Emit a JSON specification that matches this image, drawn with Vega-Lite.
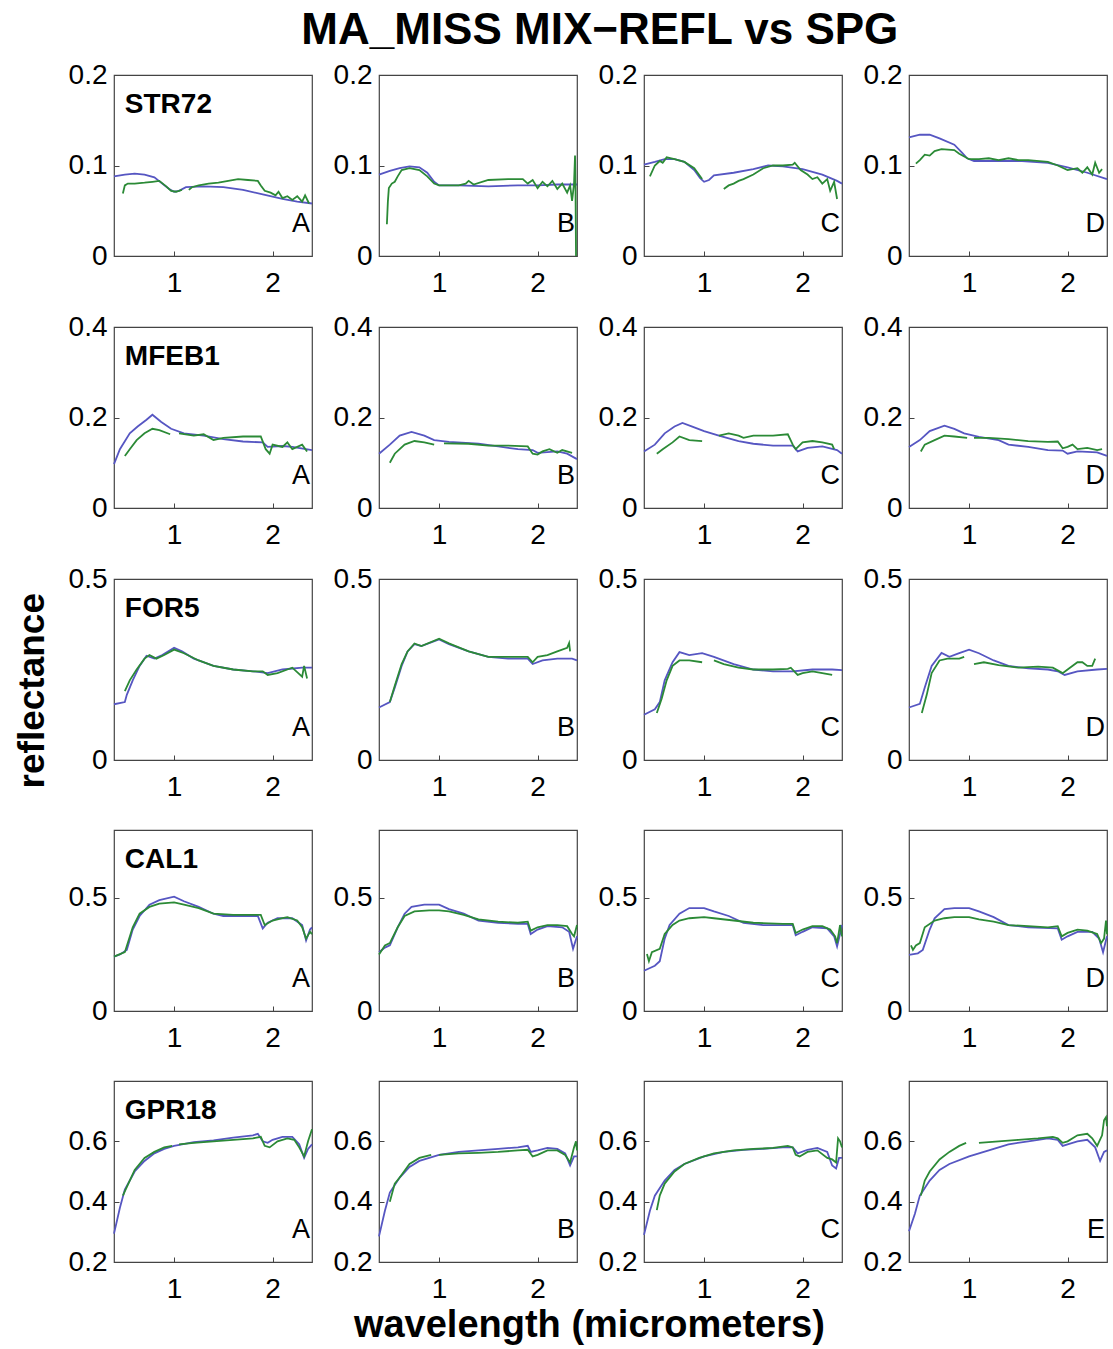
{
"$schema":"https://vega.github.io/schema/vega-lite/v6.json",
"padding":{"left":14,"top":9,"right":4,"bottom":4},
"background":"white",
"config":{
 "font":"Liberation Sans",
 "view":{"stroke":"#444","strokeWidth":1.2},
 "axis":{"domain":false,"grid":false,"ticks":true,"tickSize":-5,"tickColor":"#444","labelFontSize":28,"labelColor":"#000","labelFont":"Liberation Sans","title":null},
 "axisX":{"labelPadding":18},
 "axisY":{"labelPadding":12},
 "title":{"font":"Liberation Sans","fontWeight":"bold","color":"#000"}
},
"title":{"text":"MA_MISS MIX−REFL vs SPG","fontSize":44,"anchor":"middle","offset":7,"dx":37},
"datasets":{"d":[
{"r":1,"c":1,"lab":"A","nm":"STR72"},{"r":1,"c":2,"lab":"B"},{"r":1,"c":3,"lab":"C"},{"r":1,"c":4,"lab":"D"},
{"r":2,"c":1,"lab":"A","nm":"MFEB1"},{"r":2,"c":2,"lab":"B"},{"r":2,"c":3,"lab":"C"},{"r":2,"c":4,"lab":"D"},
{"r":3,"c":1,"lab":"A","nm":"FOR5"},{"r":3,"c":2,"lab":"B"},{"r":3,"c":3,"lab":"C"},{"r":3,"c":4,"lab":"D"},
{"r":4,"c":1,"lab":"A","nm":"CAL1"},{"r":4,"c":2,"lab":"B"},{"r":4,"c":3,"lab":"C"},{"r":4,"c":4,"lab":"D"},
{"r":5,"c":1,"lab":"A","nm":"GPR18"},{"r":5,"c":2,"lab":"B"},{"r":5,"c":3,"lab":"C"},{"r":5,"c":4,"lab":"E"},

{"r":1,"c":1,"s":"b","x":0.39,"y":0.088},{"r":1,"c":1,"s":"b","x":0.5,"y":0.090},{"r":1,"c":1,"s":"b","x":0.6,"y":0.091},{"r":1,"c":1,"s":"b","x":0.7,"y":0.090},{"r":1,"c":1,"s":"b","x":0.8,"y":0.087},{"r":1,"c":1,"s":"b","x":0.88,"y":0.080},{"r":1,"c":1,"s":"b","x":0.95,"y":0.074},{"r":1,"c":1,"s":"b","x":1.0,"y":0.071},{"r":1,"c":1,"s":"b","x":1.05,"y":0.072},{"r":1,"c":1,"s":"b","x":1.12,"y":0.076},{"r":1,"c":1,"s":"b","x":1.3,"y":0.077},{"r":1,"c":1,"s":"b","x":1.5,"y":0.076},{"r":1,"c":1,"s":"b","x":1.7,"y":0.073},{"r":1,"c":1,"s":"b","x":1.9,"y":0.068},{"r":1,"c":1,"s":"b","x":2.1,"y":0.063},{"r":1,"c":1,"s":"b","x":2.25,"y":0.060},{"r":1,"c":1,"s":"b","x":2.4,"y":0.058},
{"r":1,"c":1,"s":"g1","x":0.48,"y":0.069},{"r":1,"c":1,"s":"g1","x":0.5,"y":0.078},{"r":1,"c":1,"s":"g1","x":0.53,"y":0.080},{"r":1,"c":1,"s":"g1","x":0.6,"y":0.080},{"r":1,"c":1,"s":"g1","x":0.7,"y":0.081},{"r":1,"c":1,"s":"g1","x":0.78,"y":0.082},{"r":1,"c":1,"s":"g1","x":0.85,"y":0.083},{"r":1,"c":1,"s":"g1","x":0.92,"y":0.077},{"r":1,"c":1,"s":"g1","x":0.97,"y":0.072},{"r":1,"c":1,"s":"g1","x":1.02,"y":0.071},{"r":1,"c":1,"s":"g1","x":1.08,"y":0.073},
{"r":1,"c":1,"s":"g2","x":1.15,"y":0.073},{"r":1,"c":1,"s":"g2","x":1.18,"y":0.076},{"r":1,"c":1,"s":"g2","x":1.25,"y":0.078},{"r":1,"c":1,"s":"g2","x":1.35,"y":0.080},{"r":1,"c":1,"s":"g2","x":1.45,"y":0.081},{"r":1,"c":1,"s":"g2","x":1.55,"y":0.083},{"r":1,"c":1,"s":"g2","x":1.65,"y":0.085},{"r":1,"c":1,"s":"g2","x":1.75,"y":0.084},{"r":1,"c":1,"s":"g2","x":1.85,"y":0.083},{"r":1,"c":1,"s":"g2","x":1.88,"y":0.078},{"r":1,"c":1,"s":"g2","x":1.92,"y":0.072},{"r":1,"c":1,"s":"g2","x":1.98,"y":0.070},{"r":1,"c":1,"s":"g2","x":2.03,"y":0.067},{"r":1,"c":1,"s":"g2","x":2.06,"y":0.071},{"r":1,"c":1,"s":"g2","x":2.1,"y":0.064},{"r":1,"c":1,"s":"g2","x":2.15,"y":0.066},{"r":1,"c":1,"s":"g2","x":2.2,"y":0.062},{"r":1,"c":1,"s":"g2","x":2.25,"y":0.066},{"r":1,"c":1,"s":"g2","x":2.3,"y":0.060},{"r":1,"c":1,"s":"g2","x":2.33,"y":0.067},{"r":1,"c":1,"s":"g2","x":2.37,"y":0.058},

{"r":1,"c":2,"s":"b","x":0.39,"y":0.090},{"r":1,"c":2,"s":"b","x":0.5,"y":0.094},{"r":1,"c":2,"s":"b","x":0.6,"y":0.097},{"r":1,"c":2,"s":"b","x":0.7,"y":0.099},{"r":1,"c":2,"s":"b","x":0.8,"y":0.098},{"r":1,"c":2,"s":"b","x":0.88,"y":0.092},{"r":1,"c":2,"s":"b","x":0.95,"y":0.082},{"r":1,"c":2,"s":"b","x":1.0,"y":0.078},{"r":1,"c":2,"s":"b","x":1.2,"y":0.078},{"r":1,"c":2,"s":"b","x":1.5,"y":0.077},{"r":1,"c":2,"s":"b","x":1.8,"y":0.078},{"r":1,"c":2,"s":"b","x":2.0,"y":0.078},{"r":1,"c":2,"s":"b","x":2.2,"y":0.079},{"r":1,"c":2,"s":"b","x":2.4,"y":0.079},
{"r":1,"c":2,"s":"g1","x":0.47,"y":0.035},{"r":1,"c":2,"s":"g1","x":0.48,"y":0.060},{"r":1,"c":2,"s":"g1","x":0.49,"y":0.075},{"r":1,"c":2,"s":"g1","x":0.52,"y":0.080},{"r":1,"c":2,"s":"g1","x":0.55,"y":0.082},{"r":1,"c":2,"s":"g1","x":0.58,"y":0.088},{"r":1,"c":2,"s":"g1","x":0.62,"y":0.095},{"r":1,"c":2,"s":"g1","x":0.7,"y":0.097},{"r":1,"c":2,"s":"g1","x":0.8,"y":0.095},{"r":1,"c":2,"s":"g1","x":0.88,"y":0.088},{"r":1,"c":2,"s":"g1","x":0.95,"y":0.080},{"r":1,"c":2,"s":"g1","x":1.0,"y":0.078},{"r":1,"c":2,"s":"g1","x":1.2,"y":0.078},{"r":1,"c":2,"s":"g1","x":1.27,"y":0.080},{"r":1,"c":2,"s":"g1","x":1.3,"y":0.083},{"r":1,"c":2,"s":"g1","x":1.35,"y":0.079},{"r":1,"c":2,"s":"g1","x":1.5,"y":0.084},{"r":1,"c":2,"s":"g1","x":1.7,"y":0.085},{"r":1,"c":2,"s":"g1","x":1.85,"y":0.085},{"r":1,"c":2,"s":"g1","x":1.9,"y":0.080},{"r":1,"c":2,"s":"g1","x":1.95,"y":0.084},{"r":1,"c":2,"s":"g1","x":2.0,"y":0.075},{"r":1,"c":2,"s":"g1","x":2.05,"y":0.082},{"r":1,"c":2,"s":"g1","x":2.1,"y":0.077},{"r":1,"c":2,"s":"g1","x":2.15,"y":0.083},{"r":1,"c":2,"s":"g1","x":2.2,"y":0.074},{"r":1,"c":2,"s":"g1","x":2.25,"y":0.080},{"r":1,"c":2,"s":"g1","x":2.3,"y":0.070},{"r":1,"c":2,"s":"g1","x":2.33,"y":0.078},{"r":1,"c":2,"s":"g1","x":2.35,"y":0.061},{"r":1,"c":2,"s":"g1","x":2.37,"y":0.080},{"r":1,"c":2,"s":"g1","x":2.38,"y":0.111},{"r":1,"c":2,"s":"g1","x":2.385,"y":0.075},{"r":1,"c":2,"s":"g1","x":2.39,"y":0.0},

{"r":1,"c":3,"s":"b","x":0.39,"y":0.101},{"r":1,"c":3,"s":"b","x":0.5,"y":0.104},{"r":1,"c":3,"s":"b","x":0.6,"y":0.107},{"r":1,"c":3,"s":"b","x":0.7,"y":0.107},{"r":1,"c":3,"s":"b","x":0.8,"y":0.104},{"r":1,"c":3,"s":"b","x":0.9,"y":0.095},{"r":1,"c":3,"s":"b","x":0.96,"y":0.086},{"r":1,"c":3,"s":"b","x":1.0,"y":0.082},{"r":1,"c":3,"s":"b","x":1.05,"y":0.084},{"r":1,"c":3,"s":"b","x":1.1,"y":0.089},{"r":1,"c":3,"s":"b","x":1.3,"y":0.092},{"r":1,"c":3,"s":"b","x":1.5,"y":0.096},{"r":1,"c":3,"s":"b","x":1.65,"y":0.100},{"r":1,"c":3,"s":"b","x":1.8,"y":0.099},{"r":1,"c":3,"s":"b","x":2.0,"y":0.096},{"r":1,"c":3,"s":"b","x":2.2,"y":0.090},{"r":1,"c":3,"s":"b","x":2.35,"y":0.083},{"r":1,"c":3,"s":"b","x":2.4,"y":0.080},
{"r":1,"c":3,"s":"g1","x":0.45,"y":0.088},{"r":1,"c":3,"s":"g1","x":0.5,"y":0.100},{"r":1,"c":3,"s":"g1","x":0.55,"y":0.105},{"r":1,"c":3,"s":"g1","x":0.58,"y":0.103},{"r":1,"c":3,"s":"g1","x":0.62,"y":0.109},{"r":1,"c":3,"s":"g1","x":0.7,"y":0.107},{"r":1,"c":3,"s":"g1","x":0.8,"y":0.104},{"r":1,"c":3,"s":"g1","x":0.9,"y":0.097},{"r":1,"c":3,"s":"g1","x":0.98,"y":0.085},
{"r":1,"c":3,"s":"g2","x":1.2,"y":0.074},{"r":1,"c":3,"s":"g2","x":1.25,"y":0.078},{"r":1,"c":3,"s":"g2","x":1.3,"y":0.080},{"r":1,"c":3,"s":"g2","x":1.35,"y":0.083},{"r":1,"c":3,"s":"g2","x":1.4,"y":0.085},{"r":1,"c":3,"s":"g2","x":1.5,"y":0.090},{"r":1,"c":3,"s":"g2","x":1.6,"y":0.097},{"r":1,"c":3,"s":"g2","x":1.7,"y":0.100},{"r":1,"c":3,"s":"g2","x":1.8,"y":0.100},{"r":1,"c":3,"s":"g2","x":1.9,"y":0.101},{"r":1,"c":3,"s":"g2","x":1.92,"y":0.103},{"r":1,"c":3,"s":"g2","x":1.98,"y":0.095},{"r":1,"c":3,"s":"g2","x":2.05,"y":0.090},{"r":1,"c":3,"s":"g2","x":2.1,"y":0.085},{"r":1,"c":3,"s":"g2","x":2.15,"y":0.087},{"r":1,"c":3,"s":"g2","x":2.2,"y":0.080},{"r":1,"c":3,"s":"g2","x":2.25,"y":0.085},{"r":1,"c":3,"s":"g2","x":2.28,"y":0.072},{"r":1,"c":3,"s":"g2","x":2.32,"y":0.082},{"r":1,"c":3,"s":"g2","x":2.35,"y":0.063},

{"r":1,"c":4,"s":"b","x":0.39,"y":0.131},{"r":1,"c":4,"s":"b","x":0.5,"y":0.134},{"r":1,"c":4,"s":"b","x":0.6,"y":0.134},{"r":1,"c":4,"s":"b","x":0.7,"y":0.130},{"r":1,"c":4,"s":"b","x":0.85,"y":0.123},{"r":1,"c":4,"s":"b","x":0.93,"y":0.114},{"r":1,"c":4,"s":"b","x":0.98,"y":0.108},{"r":1,"c":4,"s":"b","x":1.05,"y":0.105},{"r":1,"c":4,"s":"b","x":1.5,"y":0.105},{"r":1,"c":4,"s":"b","x":1.8,"y":0.103},{"r":1,"c":4,"s":"b","x":2.0,"y":0.098},{"r":1,"c":4,"s":"b","x":2.2,"y":0.092},{"r":1,"c":4,"s":"b","x":2.4,"y":0.085},
{"r":1,"c":4,"s":"g1","x":0.46,"y":0.102},{"r":1,"c":4,"s":"g1","x":0.5,"y":0.106},{"r":1,"c":4,"s":"g1","x":0.55,"y":0.112},{"r":1,"c":4,"s":"g1","x":0.6,"y":0.111},{"r":1,"c":4,"s":"g1","x":0.65,"y":0.116},{"r":1,"c":4,"s":"g1","x":0.72,"y":0.118},{"r":1,"c":4,"s":"g1","x":0.85,"y":0.117},{"r":1,"c":4,"s":"g1","x":0.9,"y":0.113},{"r":1,"c":4,"s":"g1","x":1.0,"y":0.107},{"r":1,"c":4,"s":"g1","x":1.1,"y":0.107},{"r":1,"c":4,"s":"g1","x":1.2,"y":0.108},{"r":1,"c":4,"s":"g1","x":1.3,"y":0.106},{"r":1,"c":4,"s":"g1","x":1.4,"y":0.108},{"r":1,"c":4,"s":"g1","x":1.5,"y":0.106},{"r":1,"c":4,"s":"g1","x":1.6,"y":0.106},{"r":1,"c":4,"s":"g1","x":1.8,"y":0.104},{"r":1,"c":4,"s":"g1","x":1.9,"y":0.100},{"r":1,"c":4,"s":"g1","x":2.0,"y":0.095},{"r":1,"c":4,"s":"g1","x":2.1,"y":0.097},{"r":1,"c":4,"s":"g1","x":2.15,"y":0.092},{"r":1,"c":4,"s":"g1","x":2.2,"y":0.098},{"r":1,"c":4,"s":"g1","x":2.25,"y":0.090},{"r":1,"c":4,"s":"g1","x":2.28,"y":0.103},{"r":1,"c":4,"s":"g1","x":2.32,"y":0.092},{"r":1,"c":4,"s":"g1","x":2.35,"y":0.096},

{"r":2,"c":1,"s":"b","x":0.39,"y":0.097},{"r":2,"c":1,"s":"b","x":0.45,"y":0.130},{"r":2,"c":1,"s":"b","x":0.55,"y":0.165},{"r":2,"c":1,"s":"b","x":0.63,"y":0.180},{"r":2,"c":1,"s":"b","x":0.72,"y":0.195},{"r":2,"c":1,"s":"b","x":0.78,"y":0.206},{"r":2,"c":1,"s":"b","x":0.87,"y":0.190},{"r":2,"c":1,"s":"b","x":0.97,"y":0.175},{"r":2,"c":1,"s":"b","x":1.1,"y":0.165},{"r":2,"c":1,"s":"b","x":1.3,"y":0.160},{"r":2,"c":1,"s":"b","x":1.5,"y":0.152},{"r":2,"c":1,"s":"b","x":1.7,"y":0.147},{"r":2,"c":1,"s":"b","x":1.9,"y":0.145},{"r":2,"c":1,"s":"b","x":1.95,"y":0.135},{"r":2,"c":1,"s":"b","x":2.1,"y":0.137},{"r":2,"c":1,"s":"b","x":2.2,"y":0.135},{"r":2,"c":1,"s":"b","x":2.4,"y":0.128},
{"r":2,"c":1,"s":"g1","x":0.5,"y":0.115},{"r":2,"c":1,"s":"g1","x":0.55,"y":0.130},{"r":2,"c":1,"s":"g1","x":0.62,"y":0.150},{"r":2,"c":1,"s":"g1","x":0.7,"y":0.165},{"r":2,"c":1,"s":"g1","x":0.78,"y":0.175},{"r":2,"c":1,"s":"g1","x":0.85,"y":0.172},{"r":2,"c":1,"s":"g1","x":0.96,"y":0.163},
{"r":2,"c":1,"s":"g2","x":1.05,"y":0.165},{"r":2,"c":1,"s":"g2","x":1.2,"y":0.160},{"r":2,"c":1,"s":"g2","x":1.3,"y":0.163},{"r":2,"c":1,"s":"g2","x":1.4,"y":0.150},{"r":2,"c":1,"s":"g2","x":1.5,"y":0.155},{"r":2,"c":1,"s":"g2","x":1.7,"y":0.158},{"r":2,"c":1,"s":"g2","x":1.88,"y":0.158},{"r":2,"c":1,"s":"g2","x":1.93,"y":0.130},{"r":2,"c":1,"s":"g2","x":1.97,"y":0.120},{"r":2,"c":1,"s":"g2","x":2.0,"y":0.140},{"r":2,"c":1,"s":"g2","x":2.1,"y":0.135},{"r":2,"c":1,"s":"g2","x":2.15,"y":0.145},{"r":2,"c":1,"s":"g2","x":2.2,"y":0.130},{"r":2,"c":1,"s":"g2","x":2.3,"y":0.140},{"r":2,"c":1,"s":"g2","x":2.35,"y":0.125},

{"r":2,"c":2,"s":"b","x":0.39,"y":0.120},{"r":2,"c":2,"s":"b","x":0.5,"y":0.140},{"r":2,"c":2,"s":"b","x":0.6,"y":0.160},{"r":2,"c":2,"s":"b","x":0.72,"y":0.168},{"r":2,"c":2,"s":"b","x":0.85,"y":0.160},{"r":2,"c":2,"s":"b","x":0.95,"y":0.150},{"r":2,"c":2,"s":"b","x":1.1,"y":0.146},{"r":2,"c":2,"s":"b","x":1.4,"y":0.142},{"r":2,"c":2,"s":"b","x":1.6,"y":0.136},{"r":2,"c":2,"s":"b","x":1.8,"y":0.130},{"r":2,"c":2,"s":"b","x":1.95,"y":0.128},{"r":2,"c":2,"s":"b","x":2.0,"y":0.122},{"r":2,"c":2,"s":"b","x":2.2,"y":0.125},{"r":2,"c":2,"s":"b","x":2.3,"y":0.120},{"r":2,"c":2,"s":"b","x":2.4,"y":0.108},
{"r":2,"c":2,"s":"g1","x":0.5,"y":0.100},{"r":2,"c":2,"s":"g1","x":0.55,"y":0.120},{"r":2,"c":2,"s":"g1","x":0.65,"y":0.140},{"r":2,"c":2,"s":"g1","x":0.75,"y":0.148},{"r":2,"c":2,"s":"g1","x":0.85,"y":0.145},{"r":2,"c":2,"s":"g1","x":0.95,"y":0.140},
{"r":2,"c":2,"s":"g2","x":1.05,"y":0.143},{"r":2,"c":2,"s":"g2","x":1.3,"y":0.142},{"r":2,"c":2,"s":"g2","x":1.5,"y":0.138},{"r":2,"c":2,"s":"g2","x":1.7,"y":0.138},{"r":2,"c":2,"s":"g2","x":1.9,"y":0.136},{"r":2,"c":2,"s":"g2","x":1.95,"y":0.120},{"r":2,"c":2,"s":"g2","x":2.0,"y":0.118},{"r":2,"c":2,"s":"g2","x":2.05,"y":0.125},{"r":2,"c":2,"s":"g2","x":2.12,"y":0.130},{"r":2,"c":2,"s":"g2","x":2.2,"y":0.122},{"r":2,"c":2,"s":"g2","x":2.25,"y":0.128},{"r":2,"c":2,"s":"g2","x":2.35,"y":0.122},

{"r":2,"c":3,"s":"b","x":0.39,"y":0.125},{"r":2,"c":3,"s":"b","x":0.5,"y":0.140},{"r":2,"c":3,"s":"b","x":0.6,"y":0.165},{"r":2,"c":3,"s":"b","x":0.7,"y":0.180},{"r":2,"c":3,"s":"b","x":0.78,"y":0.188},{"r":2,"c":3,"s":"b","x":0.88,"y":0.180},{"r":2,"c":3,"s":"b","x":1.0,"y":0.170},{"r":2,"c":3,"s":"b","x":1.15,"y":0.160},{"r":2,"c":3,"s":"b","x":1.35,"y":0.148},{"r":2,"c":3,"s":"b","x":1.5,"y":0.142},{"r":2,"c":3,"s":"b","x":1.7,"y":0.138},{"r":2,"c":3,"s":"b","x":1.9,"y":0.138},{"r":2,"c":3,"s":"b","x":1.95,"y":0.125},{"r":2,"c":3,"s":"b","x":2.05,"y":0.133},{"r":2,"c":3,"s":"b","x":2.2,"y":0.136},{"r":2,"c":3,"s":"b","x":2.35,"y":0.128},{"r":2,"c":3,"s":"b","x":2.4,"y":0.120},
{"r":2,"c":3,"s":"g1","x":0.52,"y":0.120},{"r":2,"c":3,"s":"g1","x":0.58,"y":0.130},{"r":2,"c":3,"s":"g1","x":0.68,"y":0.145},{"r":2,"c":3,"s":"g1","x":0.75,"y":0.158},{"r":2,"c":3,"s":"g1","x":0.85,"y":0.150},{"r":2,"c":3,"s":"g1","x":0.98,"y":0.148},
{"r":2,"c":3,"s":"g2","x":1.15,"y":0.160},{"r":2,"c":3,"s":"g2","x":1.25,"y":0.165},{"r":2,"c":3,"s":"g2","x":1.35,"y":0.160},{"r":2,"c":3,"s":"g2","x":1.4,"y":0.155},{"r":2,"c":3,"s":"g2","x":1.5,"y":0.160},{"r":2,"c":3,"s":"g2","x":1.7,"y":0.160},{"r":2,"c":3,"s":"g2","x":1.85,"y":0.163},{"r":2,"c":3,"s":"g2","x":1.9,"y":0.140},{"r":2,"c":3,"s":"g2","x":1.93,"y":0.130},{"r":2,"c":3,"s":"g2","x":2.0,"y":0.145},{"r":2,"c":3,"s":"g2","x":2.1,"y":0.148},{"r":2,"c":3,"s":"g2","x":2.2,"y":0.145},{"r":2,"c":3,"s":"g2","x":2.3,"y":0.140},{"r":2,"c":3,"s":"g2","x":2.32,"y":0.130},

{"r":2,"c":4,"s":"b","x":0.39,"y":0.135},{"r":2,"c":4,"s":"b","x":0.5,"y":0.150},{"r":2,"c":4,"s":"b","x":0.6,"y":0.170},{"r":2,"c":4,"s":"b","x":0.75,"y":0.182},{"r":2,"c":4,"s":"b","x":0.85,"y":0.175},{"r":2,"c":4,"s":"b","x":0.95,"y":0.165},{"r":2,"c":4,"s":"b","x":1.1,"y":0.157},{"r":2,"c":4,"s":"b","x":1.3,"y":0.150},{"r":2,"c":4,"s":"b","x":1.4,"y":0.140},{"r":2,"c":4,"s":"b","x":1.6,"y":0.135},{"r":2,"c":4,"s":"b","x":1.8,"y":0.128},{"r":2,"c":4,"s":"b","x":1.95,"y":0.127},{"r":2,"c":4,"s":"b","x":2.0,"y":0.120},{"r":2,"c":4,"s":"b","x":2.1,"y":0.125},{"r":2,"c":4,"s":"b","x":2.3,"y":0.123},{"r":2,"c":4,"s":"b","x":2.4,"y":0.115},
{"r":2,"c":4,"s":"g1","x":0.51,"y":0.125},{"r":2,"c":4,"s":"g1","x":0.55,"y":0.140},{"r":2,"c":4,"s":"g1","x":0.65,"y":0.150},{"r":2,"c":4,"s":"g1","x":0.75,"y":0.160},{"r":2,"c":4,"s":"g1","x":0.85,"y":0.158},{"r":2,"c":4,"s":"g1","x":0.98,"y":0.155},
{"r":2,"c":4,"s":"g2","x":1.05,"y":0.155},{"r":2,"c":4,"s":"g2","x":1.2,"y":0.155},{"r":2,"c":4,"s":"g2","x":1.4,"y":0.152},{"r":2,"c":4,"s":"g2","x":1.6,"y":0.148},{"r":2,"c":4,"s":"g2","x":1.8,"y":0.146},{"r":2,"c":4,"s":"g2","x":1.9,"y":0.147},{"r":2,"c":4,"s":"g2","x":1.95,"y":0.132},{"r":2,"c":4,"s":"g2","x":2.0,"y":0.135},{"r":2,"c":4,"s":"g2","x":2.05,"y":0.140},{"r":2,"c":4,"s":"g2","x":2.1,"y":0.130},{"r":2,"c":4,"s":"g2","x":2.2,"y":0.133},{"r":2,"c":4,"s":"g2","x":2.3,"y":0.128},{"r":2,"c":4,"s":"g2","x":2.35,"y":0.130},

{"r":3,"c":1,"s":"b","x":0.39,"y":0.154},{"r":3,"c":1,"s":"b","x":0.5,"y":0.160},{"r":3,"c":1,"s":"b","x":0.52,"y":0.180},{"r":3,"c":1,"s":"b","x":0.58,"y":0.220},{"r":3,"c":1,"s":"b","x":0.65,"y":0.260},{"r":3,"c":1,"s":"b","x":0.72,"y":0.288},{"r":3,"c":1,"s":"b","x":0.8,"y":0.280},{"r":3,"c":1,"s":"b","x":0.88,"y":0.290},{"r":3,"c":1,"s":"b","x":1.0,"y":0.310},{"r":3,"c":1,"s":"b","x":1.08,"y":0.300},{"r":3,"c":1,"s":"b","x":1.2,"y":0.280},{"r":3,"c":1,"s":"b","x":1.4,"y":0.260},{"r":3,"c":1,"s":"b","x":1.6,"y":0.250},{"r":3,"c":1,"s":"b","x":1.8,"y":0.245},{"r":3,"c":1,"s":"b","x":1.95,"y":0.240},{"r":3,"c":1,"s":"b","x":2.1,"y":0.250},{"r":3,"c":1,"s":"b","x":2.3,"y":0.255},{"r":3,"c":1,"s":"b","x":2.4,"y":0.255},
{"r":3,"c":1,"s":"g1","x":0.5,"y":0.190},{"r":3,"c":1,"s":"g1","x":0.55,"y":0.220},{"r":3,"c":1,"s":"g1","x":0.62,"y":0.250},{"r":3,"c":1,"s":"g1","x":0.7,"y":0.280},{"r":3,"c":1,"s":"g1","x":0.75,"y":0.290},{"r":3,"c":1,"s":"g1","x":0.82,"y":0.280},{"r":3,"c":1,"s":"g1","x":0.9,"y":0.290},{"r":3,"c":1,"s":"g1","x":1.0,"y":0.305},{"r":3,"c":1,"s":"g1","x":1.1,"y":0.295},{"r":3,"c":1,"s":"g1","x":1.25,"y":0.275},{"r":3,"c":1,"s":"g1","x":1.4,"y":0.260},{"r":3,"c":1,"s":"g1","x":1.6,"y":0.250},{"r":3,"c":1,"s":"g1","x":1.8,"y":0.245},{"r":3,"c":1,"s":"g1","x":1.9,"y":0.245},{"r":3,"c":1,"s":"g1","x":1.95,"y":0.235},{"r":3,"c":1,"s":"g1","x":2.05,"y":0.240},{"r":3,"c":1,"s":"g1","x":2.15,"y":0.250},{"r":3,"c":1,"s":"g1","x":2.2,"y":0.255},{"r":3,"c":1,"s":"g1","x":2.3,"y":0.230},{"r":3,"c":1,"s":"g1","x":2.32,"y":0.260},{"r":3,"c":1,"s":"g1","x":2.35,"y":0.225},

{"r":3,"c":2,"s":"b","x":0.39,"y":0.145},{"r":3,"c":2,"s":"b","x":0.5,"y":0.160},{"r":3,"c":2,"s":"b","x":0.55,"y":0.200},{"r":3,"c":2,"s":"b","x":0.62,"y":0.260},{"r":3,"c":2,"s":"b","x":0.68,"y":0.300},{"r":3,"c":2,"s":"b","x":0.75,"y":0.320},{"r":3,"c":2,"s":"b","x":0.82,"y":0.315},{"r":3,"c":2,"s":"b","x":1.0,"y":0.333},{"r":3,"c":2,"s":"b","x":1.1,"y":0.320},{"r":3,"c":2,"s":"b","x":1.3,"y":0.300},{"r":3,"c":2,"s":"b","x":1.5,"y":0.285},{"r":3,"c":2,"s":"b","x":1.7,"y":0.280},{"r":3,"c":2,"s":"b","x":1.9,"y":0.280},{"r":3,"c":2,"s":"b","x":1.95,"y":0.265},{"r":3,"c":2,"s":"b","x":2.05,"y":0.275},{"r":3,"c":2,"s":"b","x":2.2,"y":0.280},{"r":3,"c":2,"s":"b","x":2.35,"y":0.280},{"r":3,"c":2,"s":"b","x":2.4,"y":0.275},
{"r":3,"c":2,"s":"g1","x":0.5,"y":0.160},{"r":3,"c":2,"s":"g1","x":0.55,"y":0.205},{"r":3,"c":2,"s":"g1","x":0.62,"y":0.265},{"r":3,"c":2,"s":"g1","x":0.68,"y":0.300},{"r":3,"c":2,"s":"g1","x":0.75,"y":0.322},{"r":3,"c":2,"s":"g1","x":0.82,"y":0.315},{"r":3,"c":2,"s":"g1","x":1.0,"y":0.335},{"r":3,"c":2,"s":"g1","x":1.1,"y":0.322},{"r":3,"c":2,"s":"g1","x":1.3,"y":0.300},{"r":3,"c":2,"s":"g1","x":1.5,"y":0.285},{"r":3,"c":2,"s":"g1","x":1.7,"y":0.285},{"r":3,"c":2,"s":"g1","x":1.9,"y":0.285},{"r":3,"c":2,"s":"g1","x":1.95,"y":0.270},{"r":3,"c":2,"s":"g1","x":2.0,"y":0.285},{"r":3,"c":2,"s":"g1","x":2.1,"y":0.290},{"r":3,"c":2,"s":"g1","x":2.2,"y":0.300},{"r":3,"c":2,"s":"g1","x":2.3,"y":0.310},{"r":3,"c":2,"s":"g1","x":2.32,"y":0.323},{"r":3,"c":2,"s":"g1","x":2.33,"y":0.300},

{"r":3,"c":3,"s":"b","x":0.39,"y":0.125},{"r":3,"c":3,"s":"b","x":0.5,"y":0.140},{"r":3,"c":3,"s":"b","x":0.55,"y":0.160},{"r":3,"c":3,"s":"b","x":0.6,"y":0.220},{"r":3,"c":3,"s":"b","x":0.68,"y":0.270},{"r":3,"c":3,"s":"b","x":0.75,"y":0.298},{"r":3,"c":3,"s":"b","x":0.85,"y":0.290},{"r":3,"c":3,"s":"b","x":0.98,"y":0.295},{"r":3,"c":3,"s":"b","x":1.1,"y":0.285},{"r":3,"c":3,"s":"b","x":1.3,"y":0.265},{"r":3,"c":3,"s":"b","x":1.5,"y":0.250},{"r":3,"c":3,"s":"b","x":1.7,"y":0.245},{"r":3,"c":3,"s":"b","x":1.9,"y":0.245},{"r":3,"c":3,"s":"b","x":2.1,"y":0.250},{"r":3,"c":3,"s":"b","x":2.3,"y":0.250},{"r":3,"c":3,"s":"b","x":2.4,"y":0.248},
{"r":3,"c":3,"s":"g1","x":0.52,"y":0.130},{"r":3,"c":3,"s":"g1","x":0.57,"y":0.170},{"r":3,"c":3,"s":"g1","x":0.62,"y":0.220},{"r":3,"c":3,"s":"g1","x":0.68,"y":0.260},{"r":3,"c":3,"s":"g1","x":0.75,"y":0.275},{"r":3,"c":3,"s":"g1","x":0.85,"y":0.275},{"r":3,"c":3,"s":"g1","x":0.98,"y":0.270},
{"r":3,"c":3,"s":"g2","x":1.1,"y":0.275},{"r":3,"c":3,"s":"g2","x":1.2,"y":0.265},{"r":3,"c":3,"s":"g2","x":1.35,"y":0.255},{"r":3,"c":3,"s":"g2","x":1.5,"y":0.250},{"r":3,"c":3,"s":"g2","x":1.7,"y":0.250},{"r":3,"c":3,"s":"g2","x":1.85,"y":0.252},{"r":3,"c":3,"s":"g2","x":1.88,"y":0.255},{"r":3,"c":3,"s":"g2","x":1.95,"y":0.235},{"r":3,"c":3,"s":"g2","x":2.0,"y":0.240},{"r":3,"c":3,"s":"g2","x":2.1,"y":0.245},{"r":3,"c":3,"s":"g2","x":2.2,"y":0.240},{"r":3,"c":3,"s":"g2","x":2.3,"y":0.235},

{"r":3,"c":4,"s":"b","x":0.39,"y":0.145},{"r":3,"c":4,"s":"b","x":0.5,"y":0.155},{"r":3,"c":4,"s":"b","x":0.55,"y":0.200},{"r":3,"c":4,"s":"b","x":0.62,"y":0.260},{"r":3,"c":4,"s":"b","x":0.72,"y":0.296},{"r":3,"c":4,"s":"b","x":0.8,"y":0.285},{"r":3,"c":4,"s":"b","x":0.9,"y":0.295},{"r":3,"c":4,"s":"b","x":1.0,"y":0.305},{"r":3,"c":4,"s":"b","x":1.1,"y":0.295},{"r":3,"c":4,"s":"b","x":1.25,"y":0.275},{"r":3,"c":4,"s":"b","x":1.4,"y":0.260},{"r":3,"c":4,"s":"b","x":1.6,"y":0.253},{"r":3,"c":4,"s":"b","x":1.8,"y":0.250},{"r":3,"c":4,"s":"b","x":1.9,"y":0.245},{"r":3,"c":4,"s":"b","x":1.97,"y":0.235},{"r":3,"c":4,"s":"b","x":2.1,"y":0.245},{"r":3,"c":4,"s":"b","x":2.3,"y":0.250},{"r":3,"c":4,"s":"b","x":2.4,"y":0.252},
{"r":3,"c":4,"s":"g1","x":0.52,"y":0.130},{"r":3,"c":4,"s":"g1","x":0.57,"y":0.180},{"r":3,"c":4,"s":"g1","x":0.62,"y":0.240},{"r":3,"c":4,"s":"g1","x":0.7,"y":0.275},{"r":3,"c":4,"s":"g1","x":0.78,"y":0.280},{"r":3,"c":4,"s":"g1","x":0.9,"y":0.280},{"r":3,"c":4,"s":"g1","x":0.95,"y":0.285},
{"r":3,"c":4,"s":"g2","x":1.05,"y":0.265},{"r":3,"c":4,"s":"g2","x":1.15,"y":0.270},{"r":3,"c":4,"s":"g2","x":1.3,"y":0.262},{"r":3,"c":4,"s":"g2","x":1.5,"y":0.255},{"r":3,"c":4,"s":"g2","x":1.7,"y":0.258},{"r":3,"c":4,"s":"g2","x":1.85,"y":0.255},{"r":3,"c":4,"s":"g2","x":1.95,"y":0.240},{"r":3,"c":4,"s":"g2","x":2.0,"y":0.250},{"r":3,"c":4,"s":"g2","x":2.1,"y":0.270},{"r":3,"c":4,"s":"g2","x":2.15,"y":0.270},{"r":3,"c":4,"s":"g2","x":2.2,"y":0.260},{"r":3,"c":4,"s":"g2","x":2.25,"y":0.260},{"r":3,"c":4,"s":"g2","x":2.28,"y":0.280},

{"r":4,"c":1,"s":"b","x":0.39,"y":0.240},{"r":4,"c":1,"s":"b","x":0.45,"y":0.250},{"r":4,"c":1,"s":"b","x":0.52,"y":0.270},{"r":4,"c":1,"s":"b","x":0.58,"y":0.360},{"r":4,"c":1,"s":"b","x":0.65,"y":0.420},{"r":4,"c":1,"s":"b","x":0.75,"y":0.470},{"r":4,"c":1,"s":"b","x":0.85,"y":0.490},{"r":4,"c":1,"s":"b","x":1.0,"y":0.505},{"r":4,"c":1,"s":"b","x":1.1,"y":0.485},{"r":4,"c":1,"s":"b","x":1.25,"y":0.460},{"r":4,"c":1,"s":"b","x":1.4,"y":0.430},{"r":4,"c":1,"s":"b","x":1.5,"y":0.420},{"r":4,"c":1,"s":"b","x":1.7,"y":0.420},{"r":4,"c":1,"s":"b","x":1.85,"y":0.420},{"r":4,"c":1,"s":"b","x":1.9,"y":0.365},{"r":4,"c":1,"s":"b","x":1.95,"y":0.390},{"r":4,"c":1,"s":"b","x":2.05,"y":0.410},{"r":4,"c":1,"s":"b","x":2.2,"y":0.410},{"r":4,"c":1,"s":"b","x":2.3,"y":0.380},{"r":4,"c":1,"s":"b","x":2.34,"y":0.312},{"r":4,"c":1,"s":"b","x":2.38,"y":0.360},{"r":4,"c":1,"s":"b","x":2.4,"y":0.370},
{"r":4,"c":1,"s":"g1","x":0.39,"y":0.240},{"r":4,"c":1,"s":"g1","x":0.5,"y":0.260},{"r":4,"c":1,"s":"g1","x":0.58,"y":0.370},{"r":4,"c":1,"s":"g1","x":0.65,"y":0.430},{"r":4,"c":1,"s":"g1","x":0.75,"y":0.460},{"r":4,"c":1,"s":"g1","x":0.85,"y":0.475},{"r":4,"c":1,"s":"g1","x":1.0,"y":0.480},{"r":4,"c":1,"s":"g1","x":1.1,"y":0.470},{"r":4,"c":1,"s":"g1","x":1.25,"y":0.455},{"r":4,"c":1,"s":"g1","x":1.4,"y":0.430},{"r":4,"c":1,"s":"g1","x":1.6,"y":0.425},{"r":4,"c":1,"s":"g1","x":1.88,"y":0.425},{"r":4,"c":1,"s":"g1","x":1.92,"y":0.380},{"r":4,"c":1,"s":"g1","x":2.0,"y":0.400},{"r":4,"c":1,"s":"g1","x":2.1,"y":0.410},{"r":4,"c":1,"s":"g1","x":2.15,"y":0.415},{"r":4,"c":1,"s":"g1","x":2.25,"y":0.400},{"r":4,"c":1,"s":"g1","x":2.3,"y":0.370},{"r":4,"c":1,"s":"g1","x":2.34,"y":0.320},{"r":4,"c":1,"s":"g1","x":2.38,"y":0.350},{"r":4,"c":1,"s":"g1","x":2.4,"y":0.340},

{"r":4,"c":2,"s":"b","x":0.39,"y":0.260},{"r":4,"c":2,"s":"b","x":0.45,"y":0.280},{"r":4,"c":2,"s":"b","x":0.5,"y":0.290},{"r":4,"c":2,"s":"b","x":0.58,"y":0.370},{"r":4,"c":2,"s":"b","x":0.65,"y":0.430},{"r":4,"c":2,"s":"b","x":0.72,"y":0.460},{"r":4,"c":2,"s":"b","x":0.85,"y":0.470},{"r":4,"c":2,"s":"b","x":1.0,"y":0.470},{"r":4,"c":2,"s":"b","x":1.1,"y":0.450},{"r":4,"c":2,"s":"b","x":1.25,"y":0.430},{"r":4,"c":2,"s":"b","x":1.4,"y":0.400},{"r":4,"c":2,"s":"b","x":1.6,"y":0.390},{"r":4,"c":2,"s":"b","x":1.8,"y":0.385},{"r":4,"c":2,"s":"b","x":1.9,"y":0.385},{"r":4,"c":2,"s":"b","x":1.93,"y":0.340},{"r":4,"c":2,"s":"b","x":2.0,"y":0.360},{"r":4,"c":2,"s":"b","x":2.1,"y":0.375},{"r":4,"c":2,"s":"b","x":2.25,"y":0.370},{"r":4,"c":2,"s":"b","x":2.32,"y":0.350},{"r":4,"c":2,"s":"b","x":2.36,"y":0.275},{"r":4,"c":2,"s":"b","x":2.4,"y":0.330},
{"r":4,"c":2,"s":"g1","x":0.39,"y":0.250},{"r":4,"c":2,"s":"g1","x":0.45,"y":0.290},{"r":4,"c":2,"s":"g1","x":0.5,"y":0.300},{"r":4,"c":2,"s":"g1","x":0.58,"y":0.370},{"r":4,"c":2,"s":"g1","x":0.65,"y":0.420},{"r":4,"c":2,"s":"g1","x":0.75,"y":0.440},{"r":4,"c":2,"s":"g1","x":0.9,"y":0.445},{"r":4,"c":2,"s":"g1","x":1.0,"y":0.445},{"r":4,"c":2,"s":"g1","x":1.1,"y":0.440},{"r":4,"c":2,"s":"g1","x":1.25,"y":0.425},{"r":4,"c":2,"s":"g1","x":1.4,"y":0.405},{"r":4,"c":2,"s":"g1","x":1.6,"y":0.395},{"r":4,"c":2,"s":"g1","x":1.8,"y":0.390},{"r":4,"c":2,"s":"g1","x":1.9,"y":0.395},{"r":4,"c":2,"s":"g1","x":1.93,"y":0.355},{"r":4,"c":2,"s":"g1","x":2.0,"y":0.370},{"r":4,"c":2,"s":"g1","x":2.1,"y":0.380},{"r":4,"c":2,"s":"g1","x":2.2,"y":0.380},{"r":4,"c":2,"s":"g1","x":2.3,"y":0.375},{"r":4,"c":2,"s":"g1","x":2.35,"y":0.340},{"r":4,"c":2,"s":"g1","x":2.37,"y":0.330},{"r":4,"c":2,"s":"g1","x":2.4,"y":0.380},

{"r":4,"c":3,"s":"b","x":0.39,"y":0.178},{"r":4,"c":3,"s":"b","x":0.5,"y":0.200},{"r":4,"c":3,"s":"b","x":0.55,"y":0.220},{"r":4,"c":3,"s":"b","x":0.6,"y":0.320},{"r":4,"c":3,"s":"b","x":0.65,"y":0.380},{"r":4,"c":3,"s":"b","x":0.75,"y":0.430},{"r":4,"c":3,"s":"b","x":0.85,"y":0.455},{"r":4,"c":3,"s":"b","x":1.0,"y":0.455},{"r":4,"c":3,"s":"b","x":1.1,"y":0.440},{"r":4,"c":3,"s":"b","x":1.25,"y":0.420},{"r":4,"c":3,"s":"b","x":1.4,"y":0.390},{"r":4,"c":3,"s":"b","x":1.6,"y":0.380},{"r":4,"c":3,"s":"b","x":1.9,"y":0.380},{"r":4,"c":3,"s":"b","x":1.93,"y":0.335},{"r":4,"c":3,"s":"b","x":2.0,"y":0.350},{"r":4,"c":3,"s":"b","x":2.1,"y":0.370},{"r":4,"c":3,"s":"b","x":2.25,"y":0.365},{"r":4,"c":3,"s":"b","x":2.32,"y":0.330},{"r":4,"c":3,"s":"b","x":2.35,"y":0.285},{"r":4,"c":3,"s":"b","x":2.38,"y":0.340},{"r":4,"c":3,"s":"b","x":2.4,"y":0.380},
{"r":4,"c":3,"s":"g1","x":0.42,"y":0.252},{"r":4,"c":3,"s":"g1","x":0.44,"y":0.220},{"r":4,"c":3,"s":"g1","x":0.47,"y":0.260},{"r":4,"c":3,"s":"g1","x":0.55,"y":0.275},{"r":4,"c":3,"s":"g1","x":0.6,"y":0.340},{"r":4,"c":3,"s":"g1","x":0.68,"y":0.380},{"r":4,"c":3,"s":"g1","x":0.75,"y":0.400},{"r":4,"c":3,"s":"g1","x":0.85,"y":0.410},{"r":4,"c":3,"s":"g1","x":1.0,"y":0.415},{"r":4,"c":3,"s":"g1","x":1.1,"y":0.410},{"r":4,"c":3,"s":"g1","x":1.3,"y":0.400},{"r":4,"c":3,"s":"g1","x":1.5,"y":0.390},{"r":4,"c":3,"s":"g1","x":1.8,"y":0.385},{"r":4,"c":3,"s":"g1","x":1.9,"y":0.385},{"r":4,"c":3,"s":"g1","x":1.93,"y":0.345},{"r":4,"c":3,"s":"g1","x":2.0,"y":0.360},{"r":4,"c":3,"s":"g1","x":2.1,"y":0.375},{"r":4,"c":3,"s":"g1","x":2.2,"y":0.375},{"r":4,"c":3,"s":"g1","x":2.28,"y":0.360},{"r":4,"c":3,"s":"g1","x":2.33,"y":0.330},{"r":4,"c":3,"s":"g1","x":2.35,"y":0.300},{"r":4,"c":3,"s":"g1","x":2.38,"y":0.380},{"r":4,"c":3,"s":"g1","x":2.4,"y":0.330},

{"r":4,"c":4,"s":"b","x":0.39,"y":0.248},{"r":4,"c":4,"s":"b","x":0.48,"y":0.255},{"r":4,"c":4,"s":"b","x":0.53,"y":0.270},{"r":4,"c":4,"s":"b","x":0.6,"y":0.360},{"r":4,"c":4,"s":"b","x":0.65,"y":0.410},{"r":4,"c":4,"s":"b","x":0.75,"y":0.450},{"r":4,"c":4,"s":"b","x":0.85,"y":0.455},{"r":4,"c":4,"s":"b","x":1.0,"y":0.455},{"r":4,"c":4,"s":"b","x":1.1,"y":0.440},{"r":4,"c":4,"s":"b","x":1.25,"y":0.415},{"r":4,"c":4,"s":"b","x":1.4,"y":0.380},{"r":4,"c":4,"s":"b","x":1.6,"y":0.370},{"r":4,"c":4,"s":"b","x":1.9,"y":0.365},{"r":4,"c":4,"s":"b","x":1.94,"y":0.315},{"r":4,"c":4,"s":"b","x":2.0,"y":0.330},{"r":4,"c":4,"s":"b","x":2.1,"y":0.350},{"r":4,"c":4,"s":"b","x":2.25,"y":0.350},{"r":4,"c":4,"s":"b","x":2.32,"y":0.320},{"r":4,"c":4,"s":"b","x":2.36,"y":0.260},{"r":4,"c":4,"s":"b","x":2.4,"y":0.330},
{"r":4,"c":4,"s":"g1","x":0.41,"y":0.290},{"r":4,"c":4,"s":"g1","x":0.43,"y":0.270},{"r":4,"c":4,"s":"g1","x":0.46,"y":0.290},{"r":4,"c":4,"s":"g1","x":0.5,"y":0.300},{"r":4,"c":4,"s":"g1","x":0.55,"y":0.370},{"r":4,"c":4,"s":"g1","x":0.65,"y":0.400},{"r":4,"c":4,"s":"g1","x":0.75,"y":0.410},{"r":4,"c":4,"s":"g1","x":0.85,"y":0.415},{"r":4,"c":4,"s":"g1","x":1.0,"y":0.415},{"r":4,"c":4,"s":"g1","x":1.1,"y":0.405},{"r":4,"c":4,"s":"g1","x":1.25,"y":0.395},{"r":4,"c":4,"s":"g1","x":1.4,"y":0.380},{"r":4,"c":4,"s":"g1","x":1.6,"y":0.375},{"r":4,"c":4,"s":"g1","x":1.8,"y":0.370},{"r":4,"c":4,"s":"g1","x":1.9,"y":0.375},{"r":4,"c":4,"s":"g1","x":1.94,"y":0.330},{"r":4,"c":4,"s":"g1","x":2.0,"y":0.345},{"r":4,"c":4,"s":"g1","x":2.1,"y":0.360},{"r":4,"c":4,"s":"g1","x":2.2,"y":0.355},{"r":4,"c":4,"s":"g1","x":2.3,"y":0.340},{"r":4,"c":4,"s":"g1","x":2.34,"y":0.300},{"r":4,"c":4,"s":"g1","x":2.37,"y":0.320},{"r":4,"c":4,"s":"g1","x":2.39,"y":0.400},{"r":4,"c":4,"s":"g1","x":2.4,"y":0.340},

{"r":5,"c":1,"s":"b","x":0.39,"y":0.294},{"r":5,"c":1,"s":"b","x":0.45,"y":0.380},{"r":5,"c":1,"s":"b","x":0.5,"y":0.440},{"r":5,"c":1,"s":"b","x":0.6,"y":0.500},{"r":5,"c":1,"s":"b","x":0.7,"y":0.535},{"r":5,"c":1,"s":"b","x":0.8,"y":0.560},{"r":5,"c":1,"s":"b","x":0.9,"y":0.575},{"r":5,"c":1,"s":"b","x":1.0,"y":0.585},{"r":5,"c":1,"s":"b","x":1.2,"y":0.597},{"r":5,"c":1,"s":"b","x":1.4,"y":0.603},{"r":5,"c":1,"s":"b","x":1.6,"y":0.612},{"r":5,"c":1,"s":"b","x":1.8,"y":0.620},{"r":5,"c":1,"s":"b","x":1.85,"y":0.625},{"r":5,"c":1,"s":"b","x":1.9,"y":0.600},{"r":5,"c":1,"s":"b","x":1.95,"y":0.595},{"r":5,"c":1,"s":"b","x":2.0,"y":0.605},{"r":5,"c":1,"s":"b","x":2.1,"y":0.615},{"r":5,"c":1,"s":"b","x":2.2,"y":0.615},{"r":5,"c":1,"s":"b","x":2.27,"y":0.590},{"r":5,"c":1,"s":"b","x":2.32,"y":0.545},{"r":5,"c":1,"s":"b","x":2.36,"y":0.575},{"r":5,"c":1,"s":"b","x":2.4,"y":0.590},
{"r":5,"c":1,"s":"g1","x":0.48,"y":0.420},{"r":5,"c":1,"s":"g1","x":0.55,"y":0.470},{"r":5,"c":1,"s":"g1","x":0.6,"y":0.505},{"r":5,"c":1,"s":"g1","x":0.7,"y":0.545},{"r":5,"c":1,"s":"g1","x":0.8,"y":0.565},{"r":5,"c":1,"s":"g1","x":0.9,"y":0.580},{"r":5,"c":1,"s":"g1","x":0.98,"y":0.585},
{"r":5,"c":1,"s":"g2","x":1.05,"y":0.590},{"r":5,"c":1,"s":"g2","x":1.2,"y":0.595},{"r":5,"c":1,"s":"g2","x":1.4,"y":0.600},{"r":5,"c":1,"s":"g2","x":1.6,"y":0.605},{"r":5,"c":1,"s":"g2","x":1.8,"y":0.610},{"r":5,"c":1,"s":"g2","x":1.88,"y":0.615},{"r":5,"c":1,"s":"g2","x":1.92,"y":0.585},{"r":5,"c":1,"s":"g2","x":1.97,"y":0.580},{"r":5,"c":1,"s":"g2","x":2.05,"y":0.600},{"r":5,"c":1,"s":"g2","x":2.15,"y":0.610},{"r":5,"c":1,"s":"g2","x":2.22,"y":0.605},{"r":5,"c":1,"s":"g2","x":2.27,"y":0.580},{"r":5,"c":1,"s":"g2","x":2.32,"y":0.550},{"r":5,"c":1,"s":"g2","x":2.36,"y":0.600},{"r":5,"c":1,"s":"g2","x":2.4,"y":0.640},

{"r":5,"c":2,"s":"b","x":0.39,"y":0.285},{"r":5,"c":2,"s":"b","x":0.45,"y":0.370},{"r":5,"c":2,"s":"b","x":0.5,"y":0.430},{"r":5,"c":2,"s":"b","x":0.6,"y":0.480},{"r":5,"c":2,"s":"b","x":0.7,"y":0.515},{"r":5,"c":2,"s":"b","x":0.8,"y":0.535},{"r":5,"c":2,"s":"b","x":1.0,"y":0.555},{"r":5,"c":2,"s":"b","x":1.2,"y":0.565},{"r":5,"c":2,"s":"b","x":1.4,"y":0.570},{"r":5,"c":2,"s":"b","x":1.6,"y":0.575},{"r":5,"c":2,"s":"b","x":1.8,"y":0.580},{"r":5,"c":2,"s":"b","x":1.9,"y":0.585},{"r":5,"c":2,"s":"b","x":1.93,"y":0.565},{"r":5,"c":2,"s":"b","x":2.0,"y":0.570},{"r":5,"c":2,"s":"b","x":2.1,"y":0.578},{"r":5,"c":2,"s":"b","x":2.2,"y":0.575},{"r":5,"c":2,"s":"b","x":2.28,"y":0.560},{"r":5,"c":2,"s":"b","x":2.33,"y":0.520},{"r":5,"c":2,"s":"b","x":2.37,"y":0.550},{"r":5,"c":2,"s":"b","x":2.4,"y":0.550},
{"r":5,"c":2,"s":"g1","x":0.5,"y":0.400},{"r":5,"c":2,"s":"g1","x":0.55,"y":0.460},{"r":5,"c":2,"s":"g1","x":0.6,"y":0.480},{"r":5,"c":2,"s":"g1","x":0.7,"y":0.525},{"r":5,"c":2,"s":"g1","x":0.8,"y":0.545},{"r":5,"c":2,"s":"g1","x":0.92,"y":0.555},
{"r":5,"c":2,"s":"g2","x":1.0,"y":0.555},{"r":5,"c":2,"s":"g2","x":1.2,"y":0.560},{"r":5,"c":2,"s":"g2","x":1.4,"y":0.562},{"r":5,"c":2,"s":"g2","x":1.6,"y":0.565},{"r":5,"c":2,"s":"g2","x":1.8,"y":0.570},{"r":5,"c":2,"s":"g2","x":1.9,"y":0.572},{"r":5,"c":2,"s":"g2","x":1.95,"y":0.550},{"r":5,"c":2,"s":"g2","x":2.0,"y":0.555},{"r":5,"c":2,"s":"g2","x":2.1,"y":0.570},{"r":5,"c":2,"s":"g2","x":2.2,"y":0.570},{"r":5,"c":2,"s":"g2","x":2.28,"y":0.555},{"r":5,"c":2,"s":"g2","x":2.33,"y":0.530},{"r":5,"c":2,"s":"g2","x":2.37,"y":0.580},{"r":5,"c":2,"s":"g2","x":2.39,"y":0.600},{"r":5,"c":2,"s":"g2","x":2.4,"y":0.570},

{"r":5,"c":3,"s":"b","x":0.39,"y":0.290},{"r":5,"c":3,"s":"b","x":0.45,"y":0.370},{"r":5,"c":3,"s":"b","x":0.5,"y":0.420},{"r":5,"c":3,"s":"b","x":0.6,"y":0.470},{"r":5,"c":3,"s":"b","x":0.7,"y":0.505},{"r":5,"c":3,"s":"b","x":0.8,"y":0.525},{"r":5,"c":3,"s":"b","x":1.0,"y":0.550},{"r":5,"c":3,"s":"b","x":1.2,"y":0.565},{"r":5,"c":3,"s":"b","x":1.4,"y":0.572},{"r":5,"c":3,"s":"b","x":1.6,"y":0.575},{"r":5,"c":3,"s":"b","x":1.8,"y":0.580},{"r":5,"c":3,"s":"b","x":1.9,"y":0.580},{"r":5,"c":3,"s":"b","x":1.95,"y":0.560},{"r":5,"c":3,"s":"b","x":2.05,"y":0.572},{"r":5,"c":3,"s":"b","x":2.15,"y":0.578},{"r":5,"c":3,"s":"b","x":2.25,"y":0.565},{"r":5,"c":3,"s":"b","x":2.3,"y":0.520},{"r":5,"c":3,"s":"b","x":2.34,"y":0.510},{"r":5,"c":3,"s":"b","x":2.37,"y":0.545},{"r":5,"c":3,"s":"b","x":2.4,"y":0.545},
{"r":5,"c":3,"s":"g1","x":0.52,"y":0.372},{"r":5,"c":3,"s":"g1","x":0.55,"y":0.420},{"r":5,"c":3,"s":"g1","x":0.6,"y":0.460},{"r":5,"c":3,"s":"g1","x":0.7,"y":0.500},{"r":5,"c":3,"s":"g1","x":0.8,"y":0.525},{"r":5,"c":3,"s":"g1","x":0.95,"y":0.545},{"r":5,"c":3,"s":"g1","x":1.1,"y":0.560},{"r":5,"c":3,"s":"g1","x":1.3,"y":0.570},{"r":5,"c":3,"s":"g1","x":1.5,"y":0.575},{"r":5,"c":3,"s":"g1","x":1.7,"y":0.578},{"r":5,"c":3,"s":"g1","x":1.85,"y":0.585},{"r":5,"c":3,"s":"g1","x":1.9,"y":0.580},{"r":5,"c":3,"s":"g1","x":1.93,"y":0.555},{"r":5,"c":3,"s":"g1","x":1.97,"y":0.550},{"r":5,"c":3,"s":"g1","x":2.05,"y":0.565},{"r":5,"c":3,"s":"g1","x":2.15,"y":0.570},{"r":5,"c":3,"s":"g1","x":2.25,"y":0.545},{"r":5,"c":3,"s":"g1","x":2.3,"y":0.540},{"r":5,"c":3,"s":"g1","x":2.34,"y":0.530},{"r":5,"c":3,"s":"g1","x":2.36,"y":0.610},{"r":5,"c":3,"s":"g1","x":2.38,"y":0.600},{"r":5,"c":3,"s":"g1","x":2.4,"y":0.580},

{"r":5,"c":4,"s":"b","x":0.39,"y":0.302},{"r":5,"c":4,"s":"b","x":0.45,"y":0.360},{"r":5,"c":4,"s":"b","x":0.5,"y":0.420},{"r":5,"c":4,"s":"b","x":0.6,"y":0.470},{"r":5,"c":4,"s":"b","x":0.7,"y":0.505},{"r":5,"c":4,"s":"b","x":0.8,"y":0.525},{"r":5,"c":4,"s":"b","x":1.0,"y":0.550},{"r":5,"c":4,"s":"b","x":1.2,"y":0.570},{"r":5,"c":4,"s":"b","x":1.4,"y":0.590},{"r":5,"c":4,"s":"b","x":1.6,"y":0.600},{"r":5,"c":4,"s":"b","x":1.8,"y":0.610},{"r":5,"c":4,"s":"b","x":1.9,"y":0.605},{"r":5,"c":4,"s":"b","x":1.95,"y":0.585},{"r":5,"c":4,"s":"b","x":2.0,"y":0.590},{"r":5,"c":4,"s":"b","x":2.1,"y":0.600},{"r":5,"c":4,"s":"b","x":2.2,"y":0.605},{"r":5,"c":4,"s":"b","x":2.28,"y":0.580},{"r":5,"c":4,"s":"b","x":2.33,"y":0.535},{"r":5,"c":4,"s":"b","x":2.37,"y":0.565},{"r":5,"c":4,"s":"b","x":2.4,"y":0.570},
{"r":5,"c":4,"s":"g1","x":0.51,"y":0.420},{"r":5,"c":4,"s":"g1","x":0.55,"y":0.470},{"r":5,"c":4,"s":"g1","x":0.6,"y":0.500},{"r":5,"c":4,"s":"g1","x":0.7,"y":0.540},{"r":5,"c":4,"s":"g1","x":0.8,"y":0.565},{"r":5,"c":4,"s":"g1","x":0.9,"y":0.585},{"r":5,"c":4,"s":"g1","x":0.97,"y":0.595},
{"r":5,"c":4,"s":"g2","x":1.1,"y":0.595},{"r":5,"c":4,"s":"g2","x":1.3,"y":0.600},{"r":5,"c":4,"s":"g2","x":1.5,"y":0.605},{"r":5,"c":4,"s":"g2","x":1.7,"y":0.610},{"r":5,"c":4,"s":"g2","x":1.85,"y":0.615},{"r":5,"c":4,"s":"g2","x":1.9,"y":0.610},{"r":5,"c":4,"s":"g2","x":1.95,"y":0.595},{"r":5,"c":4,"s":"g2","x":2.0,"y":0.600},{"r":5,"c":4,"s":"g2","x":2.1,"y":0.620},{"r":5,"c":4,"s":"g2","x":2.2,"y":0.625},{"r":5,"c":4,"s":"g2","x":2.25,"y":0.610},{"r":5,"c":4,"s":"g2","x":2.3,"y":0.585},{"r":5,"c":4,"s":"g2","x":2.35,"y":0.620},{"r":5,"c":4,"s":"g2","x":2.37,"y":0.670},{"r":5,"c":4,"s":"g2","x":2.39,"y":0.680},{"r":5,"c":4,"s":"g2","x":2.4,"y":0.650}
]},
"vconcat":[{
 "title":{"text":"reflectance","orient":"left","fontSize":37,"offset":15,"anchor":"middle","dx":12},
 "spacing":28,
 "vconcat":[
 {"spacing":15,
  "vconcat":[
  {"data":{"name":"d"},"transform":[{"filter":"datum.r==1"}],
   "facet":{"column":{"field":"c","type":"ordinal","header":null}},
   "spacing":67,"bounds":"flush","resolve":{"axis":{"y":"independent"}},
   "spec":{"width":198,"height":181,"layer":[
    {"transform":[{"filter":"isValid(datum.y)"}],"mark":{"type":"line","strokeWidth":1.8},
     "encoding":{"x":{"field":"x","type":"quantitative","scale":{"domain":[0.39,2.4],"nice":false},"axis":{"values":[1,2],"format":"~g","title":null}},
      "y":{"field":"y","type":"quantitative","scale":{"domain":[0,0.2],"nice":false},"axis":{"values":[0,0.1,0.2],"format":"~g","title":null}},
      "color":{"field":"s","type":"nominal","scale":{"domain":["b","g1","g2"],"range":["#5656c2","#2b8a36","#2b8a36"]},"legend":null}}},
    {"transform":[{"filter":"isValid(datum.lab)"}],"mark":{"type":"text","align":"right","baseline":"alphabetic","fontSize":27,"color":"#000"},
     "encoding":{"x":{"datum":2.38},"y":{"datum":0.0265},"text":{"field":"lab"}}},
    {"transform":[{"filter":"isValid(datum.nm)"}],"mark":{"type":"text","align":"left","baseline":"alphabetic","fontSize":28,"fontWeight":"bold","color":"#000"},
     "encoding":{"x":{"datum":0.5},"y":{"datum":0.158},"text":{"field":"nm"}}}
   ]}},
  {"data":{"name":"d"},"transform":[{"filter":"datum.r==2"}],
   "facet":{"column":{"field":"c","type":"ordinal","header":null}},
   "spacing":67,"bounds":"flush","resolve":{"axis":{"y":"independent"}},
   "spec":{"width":198,"height":181,"layer":[
    {"transform":[{"filter":"isValid(datum.y)"}],"mark":{"type":"line","strokeWidth":1.8},
     "encoding":{"x":{"field":"x","type":"quantitative","scale":{"domain":[0.39,2.4],"nice":false},"axis":{"values":[1,2],"format":"~g","title":null}},
      "y":{"field":"y","type":"quantitative","scale":{"domain":[0,0.4],"nice":false},"axis":{"values":[0,0.2,0.4],"format":"~g","title":null}},
      "color":{"field":"s","type":"nominal","scale":{"domain":["b","g1","g2"],"range":["#5656c2","#2b8a36","#2b8a36"]},"legend":null}}},
    {"transform":[{"filter":"isValid(datum.lab)"}],"mark":{"type":"text","align":"right","baseline":"alphabetic","fontSize":27,"color":"#000"},
     "encoding":{"x":{"datum":2.38},"y":{"datum":0.053},"text":{"field":"lab"}}},
    {"transform":[{"filter":"isValid(datum.nm)"}],"mark":{"type":"text","align":"left","baseline":"alphabetic","fontSize":28,"fontWeight":"bold","color":"#000"},
     "encoding":{"x":{"datum":0.5},"y":{"datum":0.316},"text":{"field":"nm"}}}
   ]}},
  {"data":{"name":"d"},"transform":[{"filter":"datum.r==3"}],
   "facet":{"column":{"field":"c","type":"ordinal","header":null}},
   "spacing":67,"bounds":"flush","resolve":{"axis":{"y":"independent"}},
   "spec":{"width":198,"height":181,"layer":[
    {"transform":[{"filter":"isValid(datum.y)"}],"mark":{"type":"line","strokeWidth":1.8},
     "encoding":{"x":{"field":"x","type":"quantitative","scale":{"domain":[0.39,2.4],"nice":false},"axis":{"values":[1,2],"format":"~g","title":null}},
      "y":{"field":"y","type":"quantitative","scale":{"domain":[0,0.5],"nice":false},"axis":{"values":[0,0.5],"format":"~g","title":null}},
      "color":{"field":"s","type":"nominal","scale":{"domain":["b","g1","g2"],"range":["#5656c2","#2b8a36","#2b8a36"]},"legend":null}}},
    {"transform":[{"filter":"isValid(datum.lab)"}],"mark":{"type":"text","align":"right","baseline":"alphabetic","fontSize":27,"color":"#000"},
     "encoding":{"x":{"datum":2.38},"y":{"datum":0.066},"text":{"field":"lab"}}},
    {"transform":[{"filter":"isValid(datum.nm)"}],"mark":{"type":"text","align":"left","baseline":"alphabetic","fontSize":28,"fontWeight":"bold","color":"#000"},
     "encoding":{"x":{"datum":0.5},"y":{"datum":0.395},"text":{"field":"nm"}}}
   ]}}
  ]},
 {"spacing":28,
  "vconcat":[
  {"data":{"name":"d"},"transform":[{"filter":"datum.r==4"}],
   "facet":{"column":{"field":"c","type":"ordinal","header":null}},
   "spacing":67,"bounds":"flush","resolve":{"axis":{"y":"independent"}},
   "spec":{"width":198,"height":181,"layer":[
    {"transform":[{"filter":"isValid(datum.y)"}],"mark":{"type":"line","strokeWidth":1.8},
     "encoding":{"x":{"field":"x","type":"quantitative","scale":{"domain":[0.39,2.4],"nice":false},"axis":{"values":[1,2],"format":"~g","title":null}},
      "y":{"field":"y","type":"quantitative","scale":{"domain":[0,0.8],"nice":false},"axis":{"values":[0,0.5],"format":"~g","title":null}},
      "color":{"field":"s","type":"nominal","scale":{"domain":["b","g1","g2"],"range":["#5656c2","#2b8a36","#2b8a36"]},"legend":null}}},
    {"transform":[{"filter":"isValid(datum.lab)"}],"mark":{"type":"text","align":"right","baseline":"alphabetic","fontSize":27,"color":"#000"},
     "encoding":{"x":{"datum":2.38},"y":{"datum":0.106},"text":{"field":"lab"}}},
    {"transform":[{"filter":"isValid(datum.nm)"}],"mark":{"type":"text","align":"left","baseline":"alphabetic","fontSize":28,"fontWeight":"bold","color":"#000"},
     "encoding":{"x":{"datum":0.5},"y":{"datum":0.632},"text":{"field":"nm"}}}
   ]}},
  {"title":{"text":"wavelength (micrometers)","orient":"bottom","fontSize":38,"offset":4,"anchor":"middle"},
   "data":{"name":"d"},"transform":[{"filter":"datum.r==5"}],
   "facet":{"column":{"field":"c","type":"ordinal","header":null}},
   "spacing":67,"bounds":"flush","resolve":{"axis":{"y":"independent"}},
   "spec":{"width":198,"height":181,"layer":[
    {"transform":[{"filter":"isValid(datum.y)"}],"mark":{"type":"line","strokeWidth":1.8},
     "encoding":{"x":{"field":"x","type":"quantitative","scale":{"domain":[0.39,2.4],"nice":false},"axis":{"values":[1,2],"format":"~g","title":null}},
      "y":{"field":"y","type":"quantitative","scale":{"domain":[0.2,0.8],"nice":false},"axis":{"values":[0.2,0.4,0.6],"format":"~g","title":null}},
      "color":{"field":"s","type":"nominal","scale":{"domain":["b","g1","g2"],"range":["#5656c2","#2b8a36","#2b8a36"]},"legend":null}}},
    {"transform":[{"filter":"isValid(datum.lab)"}],"mark":{"type":"text","align":"right","baseline":"alphabetic","fontSize":27,"color":"#000"},
     "encoding":{"x":{"datum":2.38},"y":{"datum":0.28},"text":{"field":"lab"}}},
    {"transform":[{"filter":"isValid(datum.nm)"}],"mark":{"type":"text","align":"left","baseline":"alphabetic","fontSize":28,"fontWeight":"bold","color":"#000"},
     "encoding":{"x":{"datum":0.5},"y":{"datum":0.674},"text":{"field":"nm"}}}
   ]}}
  ]}
 ]
}]
}
